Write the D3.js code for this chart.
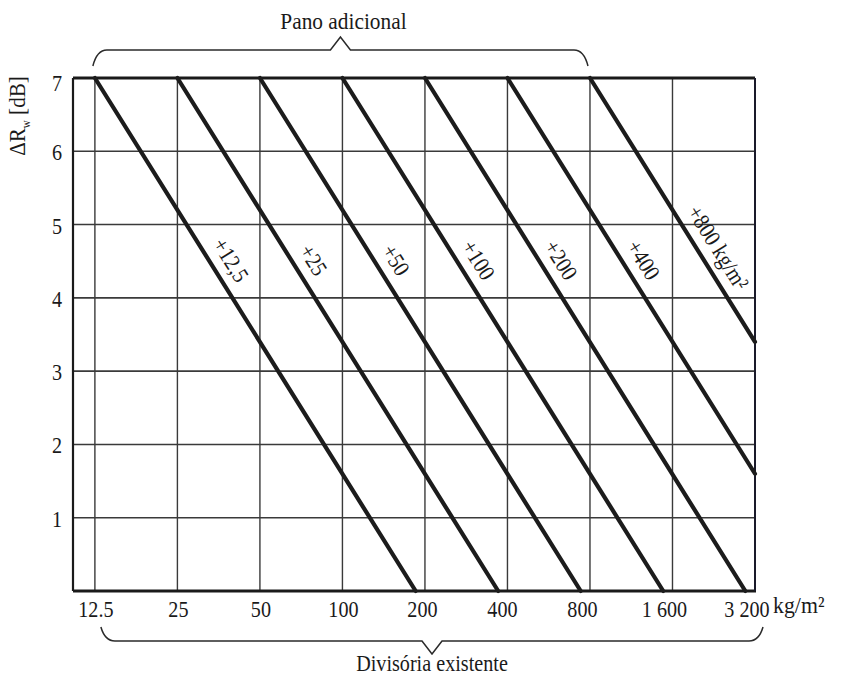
<!DOCTYPE html>
<html>
<head>
<meta charset="utf-8">
<script src="https://cdn.jsdelivr.net/npm/d3@7"></script>
<style>
  html, body { margin: 0; padding: 0; background: #fff; }
  svg { display: block; }
  text { font-family: "Liberation Serif", "DejaVu Serif", serif; fill: #1a1a1a; }
</style>
</head>
<body>
<svg id="chart" width="842" height="678"></svg>
<script>
// ---- data ----
const xTickValues = [12.5, 25, 50, 100, 200, 400, 800, 1600, 3200];
const xTickLabels = ["12.5", "25", "50", "100", "200", "400", "800", "1 600", "3 200"];
const yTickValues = [1, 2, 3, 4, 5, 6, 7];
const lineLabels = ["+12,5", "+25", "+50", "+100", "+200", "+400", "+800 kg/m²"];
const startMass = [12.5, 25, 50, 100, 200, 400, 800];   // at ΔRw = 7 dB
const startDR = [7, 7, 7, 7, 7, 7, 7];
const endMass = [185, 370, 740, 1480, 2950, 3200, 3200];
const endDR = [0, 0, 0, 0, 0, 1.6, 3.4];
const labelDR = [4.38, 4.38, 4.38, 4.38, 4.38, 4.38, 4.55];

const svg = d3.select("#chart");
const x = d3.scaleLog().base(2).domain([10.4, 3200]).range([73, 755]);
const y = d3.scaleLinear().domain([0, 7]).range([591, 78]);

const L = x.range()[0], R = x.range()[1], T = y(7), B = y(0);

// condensed serif text helper
function stext(parent, px, py, str, size, sx, anchor, rot) {
  return parent.append("text")
    .attr("transform", `translate(${px},${py}) rotate(${rot || 0}) scale(${sx},1)`)
    .attr("text-anchor", anchor || "middle")
    .attr("font-size", size)
    .text(str);
}

// grid
svg.append("g").selectAll("line").data(xTickValues.slice(0, -1)).join("line")
  .attr("x1", d => x(d)).attr("x2", d => x(d)).attr("y1", T).attr("y2", B)
  .attr("stroke", "#3a3a3a").attr("stroke-width", 1.4);
svg.append("g").selectAll("line").data(yTickValues.slice(0, -1)).join("line")
  .attr("x1", L).attr("x2", R).attr("y1", d => y(d)).attr("y2", d => y(d))
  .attr("stroke", "#3a3a3a").attr("stroke-width", 1.6);

// frame
svg.append("line").attr("x1", L).attr("x2", R).attr("y1", T).attr("y2", T).attr("stroke", "#1a1a1a").attr("stroke-width", 3);
svg.append("line").attr("x1", L).attr("x2", R + 1).attr("y1", B).attr("y2", B).attr("stroke", "#1a1a1a").attr("stroke-width", 3);
svg.append("line").attr("x1", L).attr("x2", L).attr("y1", T).attr("y2", B).attr("stroke", "#1a1a1a").attr("stroke-width", 2.2);
svg.append("line").attr("x1", R).attr("x2", R).attr("y1", T).attr("y2", B).attr("stroke", "#1a1a2a").attr("stroke-width", 2);

// diagonal lines
const series = lineLabels.map((lab, i) => ({
  label: lab,
  pts: [[startMass[i], startDR[i]], [endMass[i], endDR[i]]],
  ldr: labelDR[i]
}));
const lineGen = d3.line().x(d => x(d[0])).y(d => y(d[1]));
svg.append("g").selectAll("path").data(series).join("path")
  .attr("d", d => lineGen(d.pts))
  .attr("fill", "none").attr("stroke", "#1c1c1c").attr("stroke-width", 4.2).attr("stroke-linecap", "round");

// labels along lines
series.forEach(s => {
  const x0 = x(s.pts[0][0]), y0 = y(s.pts[0][1]);
  const x1 = x(s.pts[1][0]), y1 = y(s.pts[1][1]);
  const ang = Math.atan2(y1 - y0, x1 - x0);
  const ly = y(s.ldr);
  const t = (ly - y0) / (y1 - y0);
  const lx = x0 + t * (x1 - x0);
  const off = 11;
  const px = lx + Math.sin(ang) * off, py = ly - Math.cos(ang) * off;
  stext(svg, px, py, s.label, 23, 0.88, "middle", ang * 180 / Math.PI);
});

// x tick labels
xTickValues.forEach((d, i) => {
  const shift = i >= 4 ? -Math.min(8, (i - 3) * 2.5) : 1;
  stext(svg, x(d) + shift, 617, xTickLabels[i], 24, 0.84, "middle");
});
stext(svg, 773, 613, "kg/m²", 23, 0.95, "start");

// y tick labels
yTickValues.forEach(d => {
  stext(svg, 57, y(d) + (d === 7 ? 13 : 9), String(d), 24, 0.84, "middle");
});

// y title
const yt = svg.append("text").attr("transform", "translate(25,116) rotate(-90) scale(0.92,1)")
  .attr("text-anchor", "middle").attr("font-size", 23);
yt.append("tspan").text("ΔR");
yt.append("tspan").attr("font-size", 12).attr("dy", 5).text("w");
yt.append("tspan").attr("dy", -5).text(" [dB]");

// top brace
const tl = x(12.5) - 2, tr = x(800) - 2, tc = (tl + tr) / 2;
svg.append("path")
  .attr("d", `M${tl},66 Q${tl + 4},50 ${tl + 14},50 L${tc - 10},50 L${tc},37 L${tc + 10},50 L${tr - 14},50 Q${tr - 4},50 ${tr},66`)
  .attr("fill", "none").attr("stroke", "#2a2a2a").attr("stroke-width", 1.5);
stext(svg, tc + 3, 29, "Pano adicional", 24, 0.89, "middle");

// bottom brace
const bl = x(12.5) + 6, br = x(3200) + 8, bc = 432;
svg.append("path")
  .attr("d", `M${bl},627 Q${bl + 4},641 ${bl + 14},641 L${bc - 10},641 L${bc},654 L${bc + 10},641 L${br - 14},641 Q${br - 4},641 ${br},627`)
  .attr("fill", "none").attr("stroke", "#2a2a2a").attr("stroke-width", 1.5);
stext(svg, bc, 671, "Divisória existente", 24, 0.84, "middle");
</script>
</body>
</html>
